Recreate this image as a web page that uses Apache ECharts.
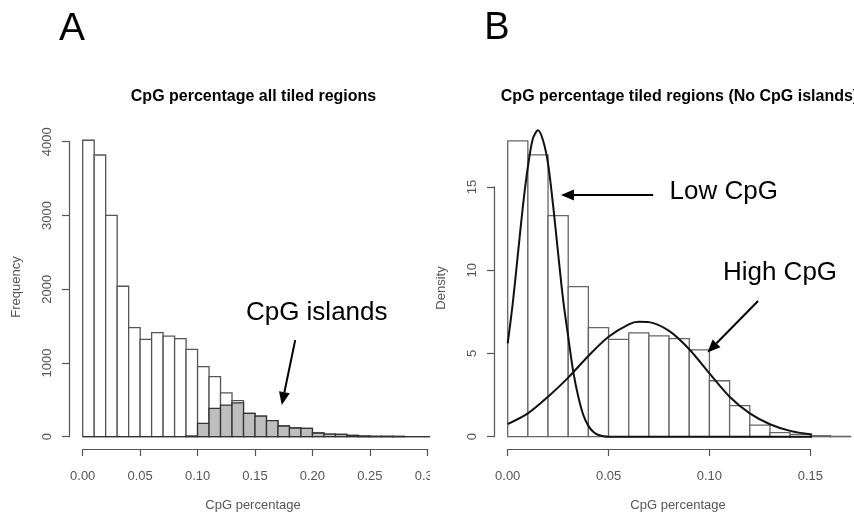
<!DOCTYPE html>
<html lang="en">
<head>
  <meta charset="UTF-8">
  <title>CpG percentage</title>
  <script src="https://cdn.jsdelivr.net/npm/echarts@6/dist/echarts.min.js"></script>
  <style>
    body { margin: 0; background: #fff; }
    #panelA { position: absolute; left: 0; top: 0; width: 430px; height: 516px; }
    #panelB { position: absolute; left: 430px; top: 0; width: 424px; height: 516px; }
  </style>
</head>
<body>
  <div id="panelA"></div>
  <div id="panelB"></div>
<script type="text/javascript">
  // panel A: all tiled regions, counts per 0.01 bin
  var breaksA = [0, 0.01, 0.02, 0.03, 0.04, 0.05, 0.06, 0.07, 0.08, 0.09, 0.10,
    0.11, 0.12, 0.13, 0.14, 0.15, 0.16, 0.17, 0.18, 0.19, 0.20,
    0.21, 0.22, 0.23, 0.24, 0.25, 0.26, 0.27, 0.28, 0.29, 0.30, 0.31];
  var allRegions = [4020, 3820, 3000, 2040, 1480, 1320, 1410, 1365, 1330, 1185, 950,
    815, 595, 488, 316, 280, 217, 145, 118, 113, 50,
    36, 32, 18, 9, 5, 5, 4, 0, 0, 0];
  var cpgIslands = [0, 0, 0, 0, 0, 0, 0, 0, 0, 10, 181,
    384, 429, 460, 316, 280, 217, 145, 118, 113, 50,
    36, 32, 18, 9, 5, 5, 4, 0, 0, 0];
  var ticksA = { xMax: 0.3, xStep: 0.05, yMax: 4000, yStep: 1000 };

  // panel B: density without CpG islands
  var breaksB = [0, 0.01, 0.02, 0.03, 0.04, 0.05, 0.06, 0.07, 0.08, 0.09, 0.10,
    0.11, 0.12, 0.13, 0.14, 0.15, 0.16, 0.17];
  var densityB = [17.76, 16.92, 13.28, 9.01, 6.55, 5.85, 6.23, 6.05, 5.89, 5.21,
    3.36, 1.86, 0.70, 0.24, 0.14, 0.06, 0.02];
  var lowCpgX = [0, 0.0025, 0.005, 0.0075, 0.01, 0.0125, 0.015, 0.0175, 0.02, 0.0225,
    0.025, 0.0275, 0.03, 0.0325, 0.035, 0.0375, 0.04, 0.0425, 0.045, 0.0475, 0.05,
    0.06, 0.08, 0.10, 0.12, 0.14, 0.16, 0.17];
  var lowCpgY = [5.6, 8.0, 10.9, 13.8, 16.2, 17.9, 18.4, 17.8, 16.4, 13.9,
    11.0, 8.2, 6.0, 3.9, 2.4, 1.3, 0.65, 0.28, 0.1, 0.03, 0,
    0, 0, 0, 0, 0, 0, 0];
  var highCpgX = [0, 0.01, 0.02, 0.03, 0.04, 0.05, 0.06, 0.065, 0.07, 0.08, 0.09,
    0.10, 0.11, 0.12, 0.13, 0.14, 0.15, 0.16, 0.17];
  var highCpgY = [0.76, 1.4, 2.4, 3.55, 4.85, 6.0, 6.75, 6.9, 6.88, 6.35, 5.25,
    3.8, 2.4, 1.4, 0.75, 0.35, 0.15, 0.06, 0.02];
  var ticksB = { xMax: 0.15, xStep: 0.05, yMax: 15, yStep: 5 };

  // annotation arrows, [fromX, fromY, toX, toY] in data units
  var arrowsA = [[0.185, 1310, 0.1733, 430]];
  var arrowsB = [[0.0721, 14.52, 0.0264, 14.52], [0.1241, 8.15, 0.0990, 5.05]];

  var FONT = '"Liberation Sans", Arial, sans-serif';
  var GREY = '#555';

  function histData(breaks, values) {
    return values.map(function (v, i) { return [breaks[i], breaks[i + 1], v]; });
  }
  function pairs(xs, ys) {
    return xs.map(function (x, i) { return [x, ys[i]]; });
  }

  function histSeries(data, fill, stroke) {
    return {
      type: 'custom',
      clip: false,
      silent: true,
      encode: { x: [0, 1], y: 2 },
      data: data,
      renderItem: function (params, api) {
        var lo = api.coord([api.value(0), 0]);
        var hi = api.coord([api.value(1), api.value(2)]);
        return {
          type: 'rect',
          shape: { x: lo[0], y: hi[1], width: hi[0] - lo[0], height: lo[1] - hi[1] },
          style: { fill: fill, stroke: stroke, lineWidth: 1.3 }
        };
      }
    };
  }

  function arrowSeries(data) {
    return {
      type: 'custom',
      clip: false,
      silent: true,
      encode: { x: [0, 2], y: [1, 3] },
      data: data,
      z: 10,
      renderItem: function (params, api) {
        var p1 = api.coord([api.value(0), api.value(1)]);
        var p2 = api.coord([api.value(2), api.value(3)]);
        var dx = p2[0] - p1[0], dy = p2[1] - p1[1];
        var len = Math.sqrt(dx * dx + dy * dy);
        var ux = dx / len, uy = dy / len;
        var headL = 13, headW = 5.5;
        var bx = p2[0] - ux * headL, by = p2[1] - uy * headL;
        return {
          type: 'group',
          children: [{
            type: 'line',
            shape: { x1: p1[0], y1: p1[1], x2: bx, y2: by },
            style: { stroke: '#000', lineWidth: 2 }
          }, {
            type: 'polygon',
            shape: { points: [[p2[0], p2[1]], [bx - uy * headW, by + ux * headW], [bx + uy * headW, by - ux * headW]] },
            style: { fill: '#000' }
          }]
        };
      }
    };
  }

  function axes(t) {
    return {
      xAxis: {
        type: 'value', min: 0, max: t.xMax, interval: t.xStep, offset: 12.3,
        axisLine: { onZero: false, lineStyle: { color: GREY, width: 1.2 } },
        axisTick: { length: 7, lineStyle: { color: GREY, width: 1.2 } },
        axisLabel: {
          color: GREY, fontFamily: FONT, fontSize: 13, margin: 21,
          formatter: function (v) { return v.toFixed(2); }
        },
        splitLine: { show: false }
      },
      yAxis: {
        type: 'value', min: 0, max: t.yMax, interval: t.yStep, offset: 13.7,
        axisLine: { show: true, onZero: false, lineStyle: { color: GREY, width: 1.2 } },
        axisTick: { show: true, length: 7, lineStyle: { color: GREY, width: 1.2 } },
        axisLabel: {
          color: GREY, fontFamily: FONT, fontSize: 13, margin: 15, rotate: 90,
          formatter: function (v) { return String(v); }
        },
        splitLine: { show: false }
      }
    };
  }

  function label(text, x, y, size, opts) {
    opts = opts || {};
    return {
      type: 'text', x: x, y: y, rotation: opts.rotate ? Math.PI / 2 : 0, silent: true,
      style: {
        text: text, fill: opts.color || '#000', textAlign: 'center', textVerticalAlign: 'middle',
        font: (opts.bold ? 'bold ' : '') + size + 'px ' + FONT
      }
    };
  }

  var chartA = echarts.init(document.getElementById('panelA'));
  var axA = axes(ticksA);
  chartA.setOption({
    animation: false,
    grid: { left: 82.7, right: 2.7, top: 141.7, bottom: 79.3, outerBoundsMode: 'none' },
    xAxis: axA.xAxis,
    yAxis: axA.yAxis,
    graphic: [
      label('A', 72, 29, 39),
      label('CpG percentage all tiled regions', 253.5, 96.7, 16, { bold: true }),
      label('CpG percentage', 253, 505, 13, { color: GREY }),
      label('Frequency', 16, 287, 13, { color: GREY, rotate: true }),
      label('CpG islands', 316.7, 312.5, 26)
    ],
    series: [
      histSeries(histData(breaksA, allRegions), '#fff', '#555'),
      histSeries(histData(breaksA, cpgIslands), '#bebebe', '#333'),
      arrowSeries(arrowsA)
    ]
  });

  var chartB = echarts.init(document.getElementById('panelB'));
  var axB = axes(ticksB);
  chartB.setOption({
    animation: false,
    grid: { left: 77.7, right: 43.7, top: 186.9, bottom: 79.3, outerBoundsMode: 'none' },
    xAxis: axB.xAxis,
    yAxis: axB.yAxis,
    graphic: [
      label('B', 67, 29, 38),
      label('CpG percentage tiled regions (No CpG islands)', 249.5, 96.7, 16, { bold: true }),
      label('CpG percentage', 248, 505, 13, { color: GREY }),
      label('Density', 11, 288, 13, { color: GREY, rotate: true }),
      label('Low CpG', 293.8, 192, 26),
      label('High CpG', 350, 272.7, 26)
    ],
    series: [
      histSeries(histData(breaksB, densityB), '#fff', '#666'),
      {
        name: 'Low CpG', type: 'line', data: pairs(lowCpgX, lowCpgY), clip: false,
        showSymbol: false, smooth: 0.3, silent: true,
        lineStyle: { color: '#111', width: 2 }
      },
      {
        name: 'High CpG', type: 'line', data: pairs(highCpgX, highCpgY), clip: false,
        showSymbol: false, smooth: 0.3, silent: true,
        lineStyle: { color: '#111', width: 2 }
      },
      arrowSeries(arrowsB)
    ]
  });
</script>
</body>
</html>
